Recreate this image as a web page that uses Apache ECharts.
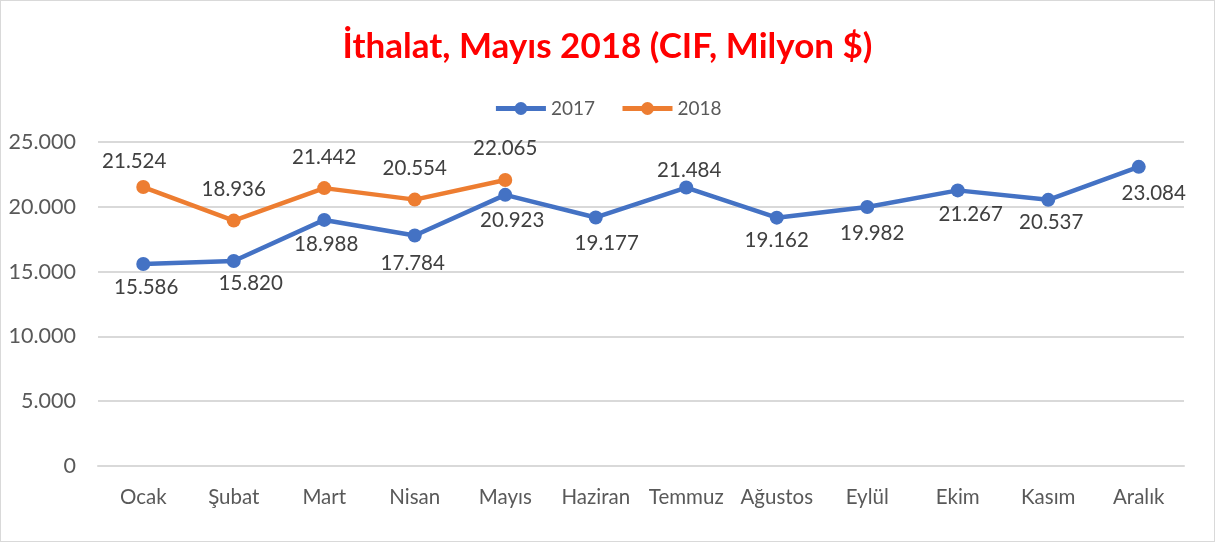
<!DOCTYPE html>
<html>
<head>
<meta charset="utf-8">
<script src="https://cdn.jsdelivr.net/npm/echarts@6/dist/echarts.min.js"></script>
<style>
  html, body { margin: 0; padding: 0; background: #fff; }
  #chart { width: 1215px; height: 542px; box-sizing: border-box; border: 1px solid #d9d9d9; }
</style>
</head>
<body>
<div id="chart"></div>
<script>
// veriler
const months = ['Ocak', 'Şubat', 'Mart', 'Nisan', 'Mayıs', 'Haziran', 'Temmuz', 'Ağustos', 'Eylül', 'Ekim', 'Kasım', 'Aralık']
const values2017 = [15586, 15820, 18988, 17784, 20923, 19177, 21484, 19162, 19982, 21267, 20537, 23084]
const values2018 = [21524, 18936, 21442, 20554, 22065]

// etiket kaydırmaları (Excel'de elle taşınmış etiketler)
const labelShift2017 = [[3, 23], [17, 22], [2, 24], [-2, 28], [7, 26], [11, 26], [3, -17], [0, 23], [5, 26], [13, 24], [3, 23], [15, 27]]
const labelShift2018 = [[-9, -26], [0, -31], [0, -31], [0, -31], [0, -32]]

const fmt = v => {
  const s = String(Math.round(v))
  return s.replace(/\B(?=(\d{3})+(?!\d))/g, '.')
}

const font = 'Lato, "Open Sans", sans-serif'
const chart = echarts.init(document.getElementById('chart'))

const labelStyle = {
  show: true,
  position: 'inside',
  align: 'center',
  verticalAlign: 'middle',
  color: '#404040',
  fontSize: 20.5,
  fontFamily: font,
  formatter: p => fmt(p.value)
}

const option = {
  animation: false,
  title: {
    text: 'İthalat, Mayıs 2018 (CIF, Milyon $)',
    left: 'center',
    top: 23,
    textStyle: { color: '#ff0000', fontSize: 35, fontWeight: 'bold', fontFamily: font }
  },
  legend: {
    top: 93,
    left: 'center',
    itemWidth: 50,
    itemHeight: 16,
    itemGap: 25,
    lineStyle: { width: 5 },
    textStyle: { color: '#595959', fontSize: 19, fontFamily: font },
    data: ['2017', '2018']
  },
  grid: { left: 97, right: 30, top: 141, bottom: 75 },
  xAxis: {
    type: 'category',
    data: months,
    boundaryGap: true,
    axisLine: { lineStyle: { color: '#d9d9d9', width: 2 } },
    axisTick: { show: false },
    axisLabel: { color: '#595959', fontSize: 20.5, fontFamily: font, margin: 21, interval: 0 }
  },
  yAxis: {
    type: 'value',
    min: 0,
    max: 25000,
    interval: 5000,
    axisLine: { show: false },
    axisTick: { show: false },
    splitLine: { lineStyle: { color: '#d9d9d9', width: 2 } },
    axisLabel: { color: '#595959', fontSize: 21.5, fontFamily: font, margin: 22, formatter: fmt }
  },
  series: [
    {
      name: '2017',
      type: 'line',
      data: values2017.map((v, i) => ({ value: v, label: { offset: labelShift2017[i] } })),
      symbol: 'circle',
      symbolSize: 14,
      lineStyle: { color: '#4472c4', width: 4.5 },
      itemStyle: { color: '#4472c4' },
      label: labelStyle
    },
    {
      name: '2018',
      type: 'line',
      data: values2018.map((v, i) => ({ value: v, label: { offset: labelShift2018[i] } })),
      symbol: 'circle',
      symbolSize: 14,
      lineStyle: { color: '#ed7d31', width: 4.5 },
      itemStyle: { color: '#ed7d31' },
      label: labelStyle
    }
  ]
}

chart.setOption(option)
</script>
</body>
</html>
